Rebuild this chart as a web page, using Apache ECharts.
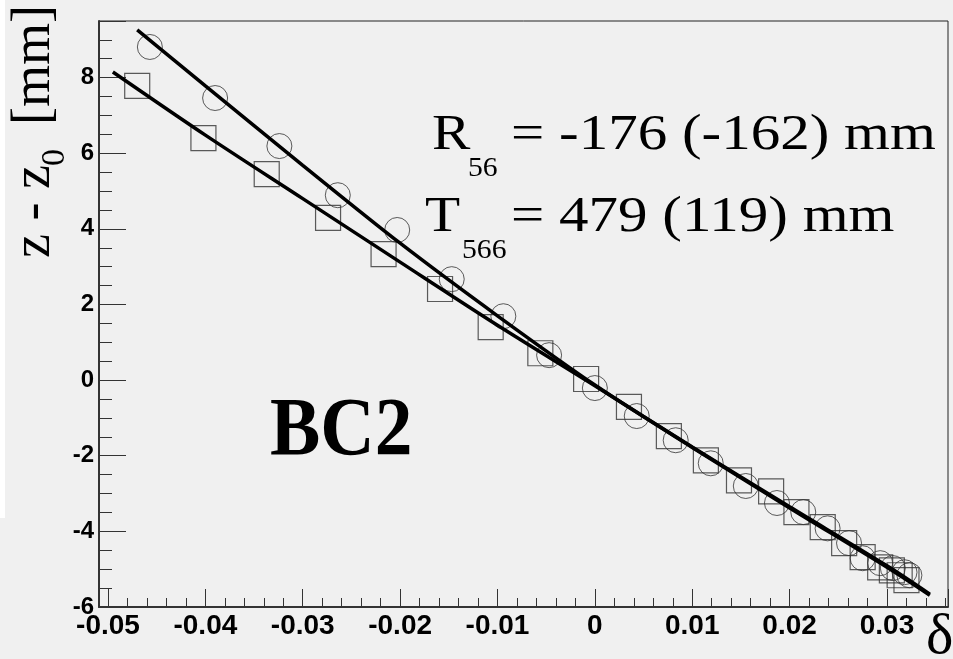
<!DOCTYPE html>
<html>
<head>
<meta charset="utf-8">
<script src="https://cdn.jsdelivr.net/npm/echarts@6/dist/echarts.min.js"></script>
<style>
  html, body { margin: 0; padding: 0; background: #f0f0f0; }
  #main { width: 953px; height: 659px; }
</style>
</head>
<body>
<div id="main"></div>
<script>
// measured points, circles (upper fit) and squares (lower fit)
var circleX = [-0.0457, -0.0390, -0.0324, -0.0264, -0.0203, -0.0147, -0.0094, -0.0047, 0.0000, 0.0043, 0.0083,
  0.0119, 0.0155, 0.0187, 0.0214, 0.0239, 0.0261, 0.0275, 0.0293, 0.0306, 0.0318, 0.0323];
var circleY = [8.81, 7.46, 6.19, 4.89, 3.97, 2.67, 1.69, 0.66, -0.21, -0.95, -1.59,
  -2.20, -2.80, -3.25, -3.49, -3.92, -4.31, -4.71, -4.84, -4.97, -5.08, -5.16];
var squareX = [-0.0470, -0.0402, -0.0337, -0.0274, -0.0217, -0.0159, -0.0107, -0.0056, -0.0009, 0.0035, 0.0076,
  0.0114, 0.0148, 0.0181, 0.0207, 0.0234, 0.0256, 0.0275, 0.0293, 0.0305, 0.0313, 0.0320];
var squareY = [7.78, 6.40, 5.45, 4.29, 3.33, 2.41, 1.40, 0.71, 0.03, -0.71, -1.48,
  -2.12, -2.65, -2.94, -3.49, -3.89, -4.31, -4.68, -4.95, -5.03, -5.16, -5.29];

// fit curves
var fitCircleX = [-0.0470, -0.040, -0.030, -0.020, -0.010, 0.000, 0.010, 0.020, 0.030, 0.0344];
var fitCircleY = [9.26, 7.78, 5.68, 3.62, 1.70, -0.13, -1.78, -3.38, -4.95, -5.69];
var fitSquareX = [-0.0495, -0.040, -0.030, -0.020, -0.010, 0.000, 0.010, 0.020, 0.030, 0.0344];
var fitSquareY = [8.15, 6.48, 4.80, 3.12, 1.45, -0.15, -1.77, -3.35, -4.91, -5.66];

var xMin = -0.050924, xMax = 0.036265;
var yMin = -6, yMax = 9.497;

function pairs(xs, ys) {
  return xs.map(function (x, i) { return [x, ys[i]]; });
}

var chart = echarts.init(document.getElementById('main'), null, { renderer: 'canvas' });

var serif = 'Liberation Serif';
var sans = 'Liberation Sans';

function txt(s, x, y, size, sx, extra) {
  // x, y = left end of the baseline
  return {
    type: 'text', x: x, y: y, scaleX: sx || 1,
    style: {
      text: s, x: 0, y: -0.3375 * size,
      font: (extra || '') + size + 'px "' + serif + '"',
      fill: '#000', verticalAlign: 'middle'
    }
  };
}

var option = {
  backgroundColor: '#f0f0f0',
  animation: false,
  grid: {
    left: 99, right: 5, top: 21, bottom: 52,
    show: true,
    borderColor: '#222',
    borderWidth: 1,
    backgroundColor: 'transparent'
  },
  xAxis: {
    type: 'value',
    min: xMin, max: xMax,
    minInterval: 0.01, maxInterval: 0.01,
    splitLine: { show: false },
    axisLine: { onZero: false, lineStyle: { color: '#333', width: 2 } },
    axisTick: { inside: true, length: 18, lineStyle: { color: '#333', width: 1 } },
    minorTick: { show: true, splitNumber: 5, length: 9, lineStyle: { color: '#333', width: 1 } },
    minorSplitLine: { show: false },
    axisLabel: {
      margin: 5,
      color: '#000',
      fontFamily: sans,
      fontWeight: 'bold',
      fontSize: 28,
      showMinLabel: false,
      showMaxLabel: false,
      formatter: function (v) { return Math.abs(v) < 1e-9 ? '0' : String(+v.toFixed(2)); }
    }
  },
  yAxis: {
    type: 'value',
    min: yMin, max: yMax,
    interval: 2,
    splitLine: { show: false },
    axisLine: { onZero: false, lineStyle: { color: '#333', width: 2 } },
    axisTick: { inside: true, length: 27, lineStyle: { color: '#333', width: 1 } },
    minorTick: { show: true, splitNumber: 4, length: 13, lineStyle: { color: '#333', width: 1 } },
    minorSplitLine: { show: false },
    axisLabel: {
      margin: 5,
      color: '#000',
      fontFamily: sans,
      fontWeight: 'bold',
      fontSize: 24,
      showMaxLabel: false
    }
  },
  series: [
    {
      type: 'scatter',
      symbol: 'circle',
      symbolSize: 25,
      data: pairs(circleX, circleY),
      itemStyle: { color: 'transparent', borderColor: '#333', borderWidth: 1 },
      z: 2
    },
    {
      type: 'scatter',
      symbol: 'rect',
      symbolSize: 25,
      data: pairs(squareX, squareY),
      itemStyle: { color: 'transparent', borderColor: '#333', borderWidth: 1.2 },
      z: 2
    },
    {
      type: 'line',
      data: pairs(fitCircleX, fitCircleY),
      smooth: 0.3,
      showSymbol: false,
      lineStyle: { color: '#000', width: 3.5 },
      z: 3
    },
    {
      type: 'line',
      data: pairs(fitSquareX, fitSquareY),
      smooth: 0.3,
      showSymbol: false,
      lineStyle: { color: '#000', width: 3.5 },
      z: 3
    }
  ],
  graphic: [
    // white margin strip at the far left
    { type: 'rect', shape: { x: 0, y: 0, width: 5, height: 518 }, style: { fill: '#ffffff' }, z: -1 },
    // y title, rotated, reads bottom to top
    {
      type: 'group', x: 53, y: 258, rotation: Math.PI / 2,
      children: [
        { type: 'text', style: { text: 'z - z', x: 0, y: -18, font: '54px "' + serif + '"', fill: '#000', verticalAlign: 'middle' } },
        { type: 'text', style: { text: '0', x: 92, y: 14 - 0.3375 * 34, font: '34px "' + serif + '"', fill: '#000', verticalAlign: 'middle' } },
        { type: 'text', style: { text: '[mm]', x: 133, y: -18, font: '54px "' + serif + '"', fill: '#000', verticalAlign: 'middle' } }
      ]
    },
    txt('R', 432, 153, 50, 1.15),
    txt('56', 468, 178, 27, 1.1),
    txt('= -176 (-162) mm', 511, 153, 50, 1.18),
    txt('T', 425, 235, 50, 1.15),
    txt('566', 462, 260, 27, 1.1),
    txt('= 479 (119) mm', 511, 235, 50, 1.18),
    txt('BC2', 270, 460, 82, 0.92, 'bold '),
    txt('δ', 926, 657, 58, 1)
  ]
};

chart.setOption(option);
window.addEventListener('resize', chart.resize);
</script>
</body>
</html>
